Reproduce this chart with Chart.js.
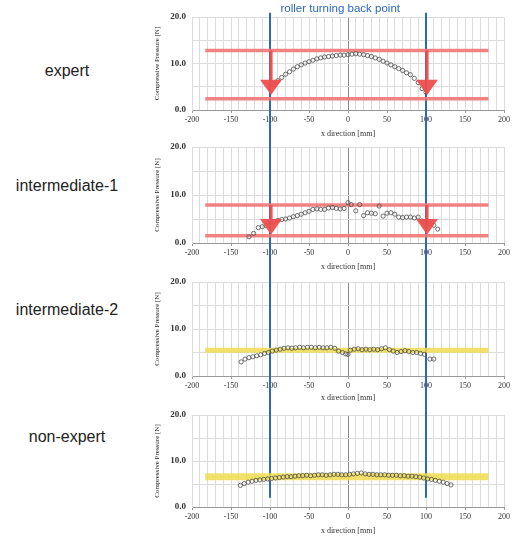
<!DOCTYPE html>
<html>
<head>
<meta charset="utf-8">
<script src="https://cdn.jsdelivr.net/npm/chart.js@4/dist/chart.umd.min.js"></script>
<style>
  body { margin: 0; background: #fff; }
  #wrap { position: relative; width: 513px; height: 541px; overflow: hidden; background: #fff; }
  .label {
    position: absolute; left: 0; width: 134px; text-align: center;
    font: 16px "Liberation Sans", Arial, sans-serif; color: #222;
    transform: translateY(-50%);
  }
  canvas { position: absolute; left: 150px; }
</style>
</head>
<body>
<div id="wrap">
  <div class="label" style="top:71px">expert</div>
  <div class="label" style="top:186px">intermediate-1</div>
  <div class="label" style="top:310px">intermediate-2</div>
  <div class="label" style="top:437px">non-expert</div>
  <canvas id="chart-expert" width="363" height="141" style="top:0px"></canvas>
  <canvas id="chart-inter1" width="363" height="133" style="top:141px"></canvas>
  <canvas id="chart-inter2" width="363" height="133" style="top:274px"></canvas>
  <canvas id="chart-nonexpert" width="363" height="134" style="top:407px"></canvas>
</div>
<script>
// tick labels
const xTickLabels = [-200, -150, -100, -50, 0, 50, 100, 150, 200];
const yTickLabels = [0, 10, 20];

// roller turning back points [mm]
const turnPoints = [-100, 100];

// expert
const expertX = [-95, -90, -85, -80, -75, -70, -65, -60, -55, -50, -45, -40, -35, -30, -25, -20, -15, -10, -5, 0,
  5, 10, 15, 20, 25, 30, 35, 40, 45, 50, 55, 60, 65, 70, 75, 80, 85, 90, 95, 100];
const expertY = [5.5, 6.3, 7.0, 7.7, 8.2, 8.8, 9.3, 9.7, 10.1, 10.4, 10.7, 11.0, 11.2, 11.4, 11.5, 11.6, 11.7, 11.8, 11.8, 11.9,
  12.0, 12.1, 12.0, 11.9, 11.7, 11.5, 11.2, 10.9, 10.5, 10.1, 9.7, 9.3, 8.9, 8.5, 8.0, 7.6, 6.8, 5.9, 4.6, 3.8];

// intermediate-1
const inter1X = [-127, -121, -115, -110, -105, -100, -95, -90, -85, -80, -75, -70, -65, -60, -55, -50, -45, -40, -35, -30,
  -25, -20, -15, -10, -5, 0, 4, 10, 15, 20, 25, 30, 35, 40, 45, 50, 55, 60, 65, 70, 75, 80, 85, 90, 95, 100, 105, 110, 115];
const inter1Y = [1.3, 2.0, 3.2, 3.4, 3.6, 4.2, 4.5, 4.7, 4.9, 5.0, 5.2, 5.5, 5.7, 6.0, 6.3, 6.6, 7.0, 7.1, 7.0, 7.0,
  7.3, 7.4, 7.2, 7.1, 7.2, 8.4, 8.0, 6.7, 8.0, 5.7, 6.3, 6.2, 6.1, 7.7, 5.6, 6.2, 6.3, 6.0, 5.4, 5.3, 5.4, 5.4, 5.2, 5.4, 4.6, 4.3, 4.0, 3.7, 2.9];

// intermediate-2
const inter2X = [-137, -132, -127, -122, -117, -112, -107, -102, -97, -92, -87, -82, -77, -72, -67, -62, -57, -52, -47, -42,
  -37, -32, -27, -22, -17, -12, -7, -3, 0, 3, 8, 13, 18, 23, 28, 33, 38, 43, 48, 53, 58, 63, 68, 73, 78, 83, 88, 93, 98, 105, 110];
const inter2Y = [3.0, 3.6, 3.9, 4.1, 4.3, 4.5, 4.8, 5.0, 5.3, 5.5, 5.7, 5.9, 6.0, 5.9, 6.0, 6.1, 6.0, 6.1, 6.1, 6.0,
  6.1, 6.0, 6.0, 6.1, 5.9, 5.3, 5.0, 4.7, 4.6, 5.5, 5.7, 5.8, 5.6, 5.7, 5.6, 5.7, 5.6, 5.8, 6.0, 5.6, 5.3, 5.0, 5.2, 5.4, 5.2, 5.0, 5.0, 4.8, 4.6, 3.6, 3.6];

// non-expert
const nonExpertX = [-138, -133, -128, -123, -118, -113, -108, -103, -98, -93, -88, -83, -78, -73, -68, -63, -58, -53, -48, -43,
  -38, -33, -28, -23, -18, -13, -8, -3, 2, 7, 12, 17, 22, 27, 32, 37, 42, 47, 52, 57, 62, 67, 72, 77, 82, 87, 92, 97, 102, 107,
  112, 117, 122, 127, 132];
const nonExpertY = [4.7, 5.1, 5.4, 5.6, 5.8, 5.9, 6.0, 6.1, 6.2, 6.3, 6.4, 6.5, 6.6, 6.6, 6.7, 6.8, 6.8, 6.9, 6.8, 6.9,
  7.0, 7.0, 6.9, 7.0, 7.1, 7.1, 7.0, 7.0, 7.1, 7.2, 7.3, 7.4, 7.2, 7.1, 7.1, 7.0, 7.0, 7.0, 6.9, 6.9, 6.9, 6.8, 6.8, 6.7, 6.7,
  6.6, 6.5, 6.3, 6.1, 6.0, 5.8, 5.6, 5.4, 5.1, 4.8];

// reference bands [x from, x to] and levels
const bandRange = [-183, 180];
const expertBands = [12.8, 2.4];
const inter1Bands = [7.9, 1.5];
const inter2Bands = [5.5];
const nonExpertBands = [6.6];

// arrows: shaft start, head top, tip
const expertArrow = [12.8, 6.5, 3.2];
const inter1Arrow = [7.9, 5.0, 1.7];

const BLUE = 'rgb(44, 104, 190)';
const RED_BAND = 'rgba(240, 118, 118, 0.9)';
const RED_ARROW = 'rgba(238, 78, 78, 0.95)';
const YELLOW = 'rgba(238, 220, 80, 0.85)';
const SERIF = '"Liberation Serif", "Times New Roman", serif';

const toPoints = (xs, ys) => xs.map((x, i) => ({ x: x, y: ys[i] }));

// blue turning lines, title and arrows
const turnPlugin = {
  id: 'turn',
  beforeDatasetsDraw(chart, args, opts) {
    const ctx = chart.ctx;
    const xs = chart.scales.x;
    const ys = chart.scales.y;
    const top = opts.topValue != null ? ys.getPixelForValue(opts.topValue) : 0;
    const bottom = opts.bottomValue != null ? ys.getPixelForValue(opts.bottomValue) : chart.height;
    ctx.save();
    ctx.strokeStyle = BLUE;
    ctx.lineWidth = 2;
    turnPoints.forEach(v => {
      const px = Math.round(xs.getPixelForValue(v));
      ctx.beginPath();
      ctx.moveTo(px, top);
      ctx.lineTo(px, bottom);
      ctx.stroke();
    });
    if (opts.title) {
      ctx.fillStyle = BLUE;
      ctx.font = '11.5px "Liberation Sans", Arial, sans-serif';
      ctx.textAlign = 'center';
      ctx.textBaseline = 'middle';
      ctx.fillText(opts.title, xs.getPixelForValue(-10), 9);
    }
    ctx.restore();
  },
  afterDatasetsDraw(chart, args, opts) {
    if (!opts.arrow) return;
    const ctx = chart.ctx;
    const xs = chart.scales.x;
    const ys = chart.scales.y;
    const [from, headTop, tip] = opts.arrow;
    ctx.save();
    ctx.fillStyle = RED_ARROW;
    turnPoints.forEach(v => {
      const px = xs.getPixelForValue(v) + 1;
      const y0 = ys.getPixelForValue(from);
      const y1 = ys.getPixelForValue(headTop);
      const y2 = ys.getPixelForValue(tip);
      ctx.fillRect(px - 1.6, y0, 3.2, y1 - y0 + 1);
      ctx.beginPath();
      ctx.moveTo(xs.getPixelForValue(v - 14) + 1, y1);
      ctx.lineTo(xs.getPixelForValue(v + 14) + 1, y1);
      ctx.lineTo(px, y2);
      ctx.closePath();
      ctx.fill();
    });
    ctx.restore();
  }
};

function bandDataset(level, color, width) {
  return {
    data: [{ x: bandRange[0], y: level }, { x: bandRange[1], y: level }],
    showLine: true,
    borderColor: color,
    borderWidth: width,
    pointRadius: 0,
    borderCapStyle: 'butt'
  };
}

function makeChart(id, xs, ys, bands, bandColor, bandWidth, opts) {
  const datasets = [{
    data: toPoints(xs, ys),
    pointRadius: 2.1,
    pointBorderWidth: 0.8,
    pointBorderColor: '#4d4d4d',
    pointBackgroundColor: 'rgba(255,255,255,0)',
    showLine: false
  }];
  bands.forEach(b => datasets.push(bandDataset(b, bandColor, bandWidth)));

  return new Chart(document.getElementById(id), {
    type: 'scatter',
    data: { datasets: datasets },
    plugins: [turnPlugin],
    options: {
      responsive: false,
      animation: false,
      layout: { padding: { top: opts.padTop, right: 9, left: 0, bottom: 0 } },
      plugins: {
        legend: { display: false },
        tooltip: { enabled: false },
        turn: opts.turn
      },
      scales: {
        x: {
          type: 'linear',
          min: -200,
          max: 200,
          afterFit: s => { s.height = opts.axisHeight; },
          ticks: {
            stepSize: 10,
            autoSkip: false,
            maxRotation: 0,
            padding: 2,
            color: '#333',
            font: { family: SERIF, size: 8 },
            callback: v => xTickLabels.includes(v) ? String(v) : ''
          },
          grid: {
            color: c => c.tick && c.tick.value === 0 ? '#8a8a8a' : '#dcdcdc',
            lineWidth: 1,
            tickLength: 3,
            tickColor: c => c.tick && xTickLabels.includes(c.tick.value) ? '#999' : 'rgba(0,0,0,0)'
          },
          border: { color: '#999' },
          title: {
            display: true,
            text: 'x direction [mm]',
            color: '#333',
            font: { family: SERIF, size: 8 },
            padding: { top: 0, bottom: opts.titleBottom }
          }
        },
        y: {
          min: 0,
          max: 20,
          afterFit: s => { s.width = 42; },
          ticks: {
            stepSize: 5,
            padding: 1,
            color: '#333',
            font: { family: SERIF, size: 9, weight: 'bold', lineHeight: 1 },
            callback: v => yTickLabels.includes(v) ? v.toFixed(1) : ''
          },
          grid: { color: '#dcdcdc', lineWidth: 1, drawTicks: true, tickLength: 5, tickColor: 'rgba(0,0,0,0)' },
          border: { color: '#dcdcdc' },
          title: {
            display: true,
            text: 'Compressive Pressure [N]',
            color: '#222',
            font: { family: SERIF, size: 7 },
            padding: { top: 3, bottom: 0 }
          }
        }
      }
    }
  });
}

const expertChart = makeChart('chart-expert', expertX, expertY, expertBands, RED_BAND, 3.5,
  { padTop: 17, axisHeight: 31, titleBottom: 2,
    turn: { topValue: 20.9, title: 'roller turning back point', arrow: expertArrow } });

const inter1Chart = makeChart('chart-inter1', inter1X, inter1Y, inter1Bands, RED_BAND, 3.5,
  { padTop: 6, axisHeight: 31, titleBottom: 2, turn: { arrow: inter1Arrow } });

const inter2Chart = makeChart('chart-inter2', inter2X, inter2Y, inter2Bands, YELLOW, 5,
  { padTop: 8, axisHeight: 31, titleBottom: 4, turn: {} });

const nonExpertChart = makeChart('chart-nonexpert', nonExpertX, nonExpertY, nonExpertBands, YELLOW, 7,
  { padTop: 8, axisHeight: 34, titleBottom: 5, turn: { bottomValue: 2 } });
</script>
</body>
</html>
